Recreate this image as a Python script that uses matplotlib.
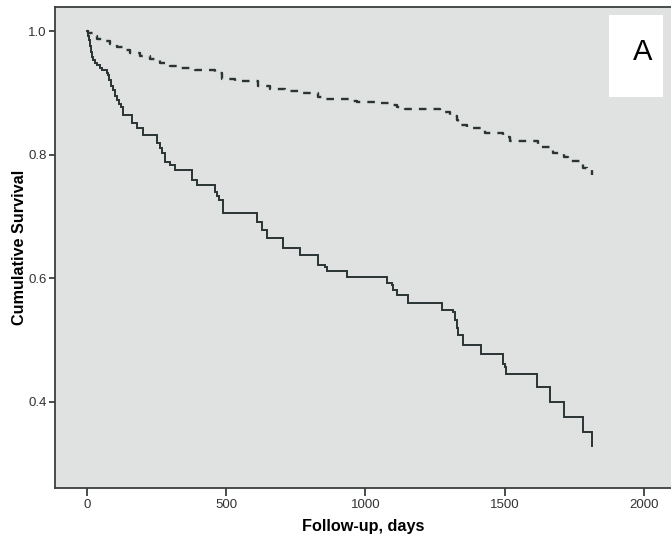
import matplotlib
matplotlib.use("Agg")
import matplotlib.pyplot as plt
from matplotlib.patches import Rectangle

plt.rcParams['font.family'] = ['Liberation Sans', 'DejaVu Sans']

# Solid curve (event times in days, survival after each step)
solid_t = [0, 4, 7, 11, 14, 18, 22, 28, 36, 47, 54, 72, 75, 79, 86, 93, 101, 108, 115, 122,
           129, 162, 180, 201, 252, 262, 270, 280, 298, 316, 377, 395, 460, 467, 474, 489,
           611, 629, 647, 704, 765, 830, 855, 862, 934, 1078, 1096, 1100, 1114, 1153, 1276,
           1315, 1322, 1329, 1333, 1351, 1416, 1495, 1502, 1506, 1617, 1664, 1714, 1782, 1815]
solid_s = [1.0, 0.992, 0.985, 0.976, 0.966, 0.958, 0.953, 0.948, 0.945, 0.940, 0.937, 0.933, 0.929, 0.921,
           0.912, 0.904, 0.895, 0.888, 0.882, 0.877, 0.864, 0.851, 0.843, 0.832, 0.819, 0.811,
           0.802, 0.788, 0.783, 0.775, 0.759, 0.751, 0.739, 0.733, 0.727, 0.705, 0.691, 0.678,
           0.665, 0.649, 0.637, 0.621, 0.618, 0.611, 0.602, 0.592, 0.589, 0.581, 0.572, 0.560,
           0.548, 0.545, 0.532, 0.519, 0.508, 0.491, 0.477, 0.461, 0.456, 0.445, 0.423, 0.399,
           0.375, 0.351, 0.328]

# Dashed curve
dash_t = [0, 4, 22, 36, 58, 83, 108, 129, 155, 190, 226, 262, 298, 323, 388, 460, 485, 532,
          614, 658, 712, 765, 830, 844, 945, 970, 1053, 1089, 1114, 1143, 1268, 1304, 1330,
          1333, 1365, 1430, 1495, 1520, 1621, 1675, 1714, 1728, 1782, 1797, 1815]
dash_s = [1.0, 0.997, 0.992, 0.987, 0.984, 0.979, 0.974, 0.969, 0.964, 0.960, 0.955, 0.948,
          0.943, 0.940, 0.937, 0.932, 0.922, 0.919, 0.911, 0.906, 0.903, 0.900, 0.893, 0.890,
          0.887, 0.885, 0.883, 0.880, 0.877, 0.874, 0.869, 0.862, 0.856, 0.848, 0.843, 0.835,
          0.828, 0.822, 0.812, 0.802, 0.796, 0.790, 0.778, 0.775, 0.767]

x_ticks = [0, 500, 1000, 1500, 2000]
y_ticks = [0.4, 0.6, 0.8, 1.0]

fig = plt.figure(figsize=(6.71, 5.46), dpi=100)
ax = fig.add_axes([0.082, 0.106, 0.918, 0.881])
ax.set_facecolor('#e0e1e1')

line_col = '#2b3434'
ax.step(solid_t, solid_s, where='post', color=line_col, lw=1.4, solid_joinstyle='miter')
ax.step(dash_t, dash_s, where='post', color=line_col, lw=1.7, linestyle=(0, (3.2, 3.0)))

ax.set_xlim(-115, 2098)
ax.set_ylim(0.260, 1.039)
ax.set_xticks(x_ticks)
ax.set_xticklabels([str(v) for v in x_ticks])
ax.set_yticks(y_ticks)
ax.set_yticklabels([f"{v:.1f}" for v in y_ticks])

spine_col = '#3a3f3f'
for s in ['left', 'bottom', 'top']:
    ax.spines[s].set_color(spine_col)
    ax.spines[s].set_linewidth(1.3)
ax.spines['right'].set_visible(False)

ax.tick_params(axis='x', direction='out', length=6, width=1.3, color=spine_col,
               labelsize=9.5, labelcolor='#333333', pad=1.5)
ax.tick_params(axis='y', direction='out', length=4, width=1.3, color=spine_col,
               labelsize=9.5, labelcolor='#333333', pad=2)

ax.set_xlabel('Follow-up, days', fontsize=11.7, fontweight='bold', labelpad=6)
ax.set_ylabel('Cumulative Survival', fontsize=11.7, fontweight='bold', labelpad=1)

# Panel label box
fig.patches.append(Rectangle((609/671, 1-97/546), 54/671, 82/546, transform=fig.transFigure,
                             facecolor='white', edgecolor='none', zorder=5))
fig.text(643/671, 1-52/546, 'A', fontsize=21, ha='center', va='center', color='black', zorder=6)

fig.savefig('out.png', dpi=100)
